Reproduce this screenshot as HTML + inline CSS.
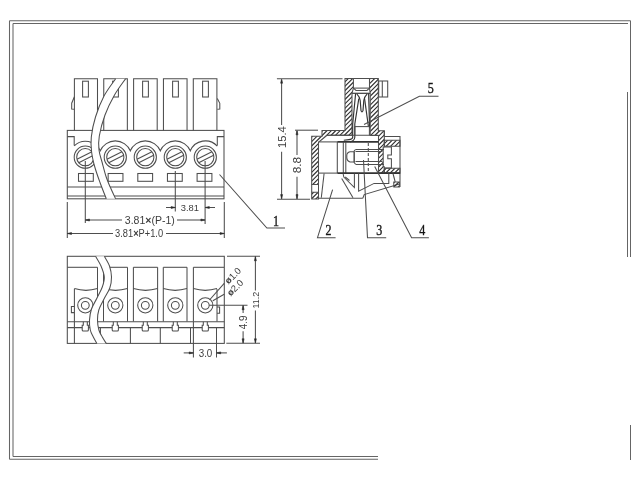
<!DOCTYPE html>
<html><head><meta charset="utf-8"><style>
html,body{margin:0;padding:0;background:#fff;width:640px;height:480px;overflow:hidden}
svg{display:block;will-change:transform}
line,polyline,polygon,rect,circle,path{stroke:#4e4e4e;stroke-width:1.05}
.ah{fill:#222;stroke:#333;stroke-width:0.6}
.t{font-family:"Liberation Sans",sans-serif;fill:#3c3c3c}
.s{font-family:"Liberation Serif",serif;fill:#111;stroke:#222;stroke-width:0.4}
.wf{fill:#fff}
.th{stroke-width:1.6;stroke:#333}
.hat{fill:url(#hatch)}
.nostroke{stroke:none}
.hl{stroke:#2e2e2e;stroke-width:1.15;fill:none}
.dash{stroke-dasharray:3 2}
.sp{stroke:#333;stroke-width:1.15}
</style></head><body>
<svg width="640" height="480" viewBox="0 0 640 480">
<defs>
<pattern id="hatch" patternUnits="userSpaceOnUse" width="4" height="4" patternTransform="rotate(45)">
<rect x="0" y="0" width="4" height="4" fill="#fff" stroke="none"/>
<line x1="2" y1="-1" x2="2" y2="5" style="stroke:#3a3a3a;stroke-width:1"/>
</pattern>
</defs>
<line x1="9.50" y1="20.70" x2="630.50" y2="20.70" style="stroke:#656565;"/>
<line x1="9.50" y1="20.70" x2="9.50" y2="459.30" style="stroke:#656565;"/>
<line x1="9.50" y1="459.30" x2="378.00" y2="459.30" style="stroke:#656565;"/>
<line x1="630.50" y1="20.70" x2="630.50" y2="257.00" style="stroke:#656565;"/>
<line x1="13.00" y1="23.50" x2="628.00" y2="23.50" style="stroke:#656565;"/>
<line x1="13.00" y1="23.50" x2="13.00" y2="456.50" style="stroke:#656565;"/>
<line x1="13.00" y1="456.50" x2="378.00" y2="456.50" style="stroke:#656565;"/>
<line x1="627.50" y1="92.00" x2="627.50" y2="257.00" style="stroke:#656565;"/>
<line x1="630.50" y1="425.00" x2="630.50" y2="460.00" style="stroke:#656565;"/>
<polyline points="74.40,130.40 74.40,78.70 97.50,78.70 97.50,130.40" fill="none"/>
<rect x="82.60" y="81.20" width="5.80" height="15.80" fill="none"/>
<polyline points="103.75,130.40 103.75,78.70 127.35,78.70 127.35,130.40" fill="none"/>
<rect x="112.60" y="81.20" width="5.80" height="15.80" fill="none"/>
<polyline points="133.60,130.40 133.60,78.70 157.20,78.70 157.20,130.40" fill="none"/>
<rect x="142.60" y="81.20" width="5.80" height="15.80" fill="none"/>
<polyline points="163.45,130.40 163.45,78.70 187.05,78.70 187.05,130.40" fill="none"/>
<rect x="172.60" y="81.20" width="5.80" height="15.80" fill="none"/>
<polyline points="193.30,130.40 193.30,78.70 216.90,78.70 216.90,130.40" fill="none"/>
<rect x="202.60" y="81.20" width="5.80" height="15.80" fill="none"/>
<polyline points="74.40,96.80 71.70,103.20 71.70,109.00 74.40,109.20" fill="none"/>
<polyline points="217.30,98.50 219.80,103.30 219.80,109.00 217.30,109.20" fill="none"/>
<rect x="67.30" y="130.40" width="156.70" height="68.40" fill="none"/>
<line x1="67.30" y1="187.00" x2="224.00" y2="187.00"/>
<line x1="67.30" y1="195.90" x2="224.00" y2="195.90"/>
<polyline points="67.30,136.60 74.20,136.60 74.20,145.60" fill="none"/>
<polyline points="224.00,136.60 217.30,136.60 217.30,145.60" fill="none"/>
<path d="M74.2,145.8 A16.3,16.3 0 0 1 100.30,150.82 A16.3,16.3 0 0 1 130.30,150.82 A16.3,16.3 0 0 1 160.30,150.82 A16.3,16.3 0 0 1 190.30,150.82 A16.3,16.3 0 0 1 217.30,146.17" fill="none"/>
<circle cx="85.30" cy="157.20" r="11.10" fill="none"/>
<circle cx="85.30" cy="157.20" r="8.60" fill="none"/>
<line x1="76.94" y1="159.21" x2="91.92" y2="151.71"/>
<line x1="78.68" y1="162.69" x2="93.66" y2="155.19"/>
<rect x="78.50" y="173.50" width="14.80" height="7.80" fill="none"/>
<circle cx="115.30" cy="157.20" r="11.10" fill="none"/>
<circle cx="115.30" cy="157.20" r="8.60" fill="none"/>
<line x1="106.94" y1="159.21" x2="121.92" y2="151.71"/>
<line x1="108.68" y1="162.69" x2="123.66" y2="155.19"/>
<rect x="108.15" y="173.50" width="14.80" height="7.80" fill="none"/>
<circle cx="145.30" cy="157.20" r="11.10" fill="none"/>
<circle cx="145.30" cy="157.20" r="8.60" fill="none"/>
<line x1="136.94" y1="159.21" x2="151.92" y2="151.71"/>
<line x1="138.68" y1="162.69" x2="153.66" y2="155.19"/>
<rect x="137.80" y="173.50" width="14.80" height="7.80" fill="none"/>
<circle cx="175.30" cy="157.20" r="11.10" fill="none"/>
<circle cx="175.30" cy="157.20" r="8.60" fill="none"/>
<line x1="166.94" y1="159.21" x2="181.92" y2="151.71"/>
<line x1="168.68" y1="162.69" x2="183.66" y2="155.19"/>
<rect x="167.45" y="173.50" width="14.80" height="7.80" fill="none"/>
<circle cx="205.30" cy="157.20" r="11.10" fill="none"/>
<circle cx="205.30" cy="157.20" r="8.60" fill="none"/>
<line x1="196.94" y1="159.21" x2="211.92" y2="151.71"/>
<line x1="198.68" y1="162.69" x2="213.66" y2="155.19"/>
<rect x="197.10" y="173.50" width="14.80" height="7.80" fill="none"/>
<path d="M115.60,78.70 C113.67,81.58 107.35,89.62 104.00,96.00 C100.65,102.38 97.62,110.17 95.50,117.00 C93.38,123.83 91.95,131.17 91.30,137.00 C90.65,142.83 91.02,147.00 91.60,152.00 C92.18,157.00 93.37,161.83 94.80,167.00 C96.23,172.17 98.28,177.70 100.20,183.00 C102.12,188.30 105.28,196.17 106.30,198.80 L115.60,198.80 C114.70,196.83 111.77,190.63 110.20,187.00 C108.63,183.37 107.52,181.00 106.20,177.00 C104.88,173.00 103.50,167.50 102.30,163.00 C101.10,158.50 99.50,154.50 99.00,150.00 C98.50,145.50 98.30,141.83 99.30,136.00 C100.30,130.17 102.47,121.83 105.00,115.00 C107.53,108.17 111.07,101.05 114.50,95.00 C117.93,88.95 123.75,81.42 125.60,78.70 Z" fill="#fff" class="nostroke"/>
<path d="M115.60,78.70 C113.67,81.58 107.35,89.62 104.00,96.00 C100.65,102.38 97.62,110.17 95.50,117.00 C93.38,123.83 91.95,131.17 91.30,137.00 C90.65,142.83 91.02,147.00 91.60,152.00 C92.18,157.00 93.37,161.83 94.80,167.00 C96.23,172.17 98.28,177.70 100.20,183.00 C102.12,188.30 105.28,196.17 106.30,198.80" fill="none"/>
<path d="M125.60,78.70 C123.75,81.42 117.93,88.95 114.50,95.00 C111.07,101.05 107.53,108.17 105.00,115.00 C102.47,121.83 100.30,130.17 99.30,136.00 C98.30,141.83 98.50,145.50 99.00,150.00 C99.50,154.50 101.10,158.50 102.30,163.00 C103.50,167.50 104.88,173.00 106.20,177.00 C107.52,181.00 108.63,183.37 110.20,187.00 C111.77,190.63 114.70,196.83 115.60,198.80" fill="none"/>
<line x1="85.30" y1="161.00" x2="85.30" y2="223.00"/>
<line x1="175.30" y1="171.00" x2="175.30" y2="211.50"/>
<line x1="205.10" y1="161.00" x2="205.10" y2="224.00"/>
<line x1="67.30" y1="202.00" x2="67.30" y2="238.00"/>
<line x1="224.30" y1="202.00" x2="224.30" y2="238.00"/>
<line x1="166.00" y1="207.50" x2="175.30" y2="207.50"/>
<polygon points="175.30,207.50 171.10,206.50 171.10,208.50" class="ah"/>
<line x1="215.00" y1="207.50" x2="205.10" y2="207.50"/>
<polygon points="205.10,207.50 209.30,206.50 209.30,208.50" class="ah"/>
<text x="189.90" y="211.20" font-size="9.9" text-anchor="middle" class="t" textLength="18.2" lengthAdjust="spacingAndGlyphs">3.81</text>
<line x1="85.30" y1="220.00" x2="122.00" y2="220.00"/>
<polygon points="85.30,220.00 89.50,219.00 89.50,221.00" class="ah"/>
<line x1="177.00" y1="220.00" x2="205.10" y2="220.00"/>
<polygon points="205.10,220.00 200.90,219.00 200.90,221.00" class="ah"/>
<text x="149.80" y="224.10" font-size="10" text-anchor="middle" class="t" textLength="50" lengthAdjust="spacingAndGlyphs">3.81<tspan font-weight="bold">×</tspan>(P-1)</text>
<line x1="67.30" y1="233.50" x2="113.00" y2="233.50"/>
<polygon points="67.30,233.50 71.50,232.50 71.50,234.50" class="ah"/>
<line x1="166.00" y1="233.50" x2="224.30" y2="233.50"/>
<polygon points="224.30,233.50 220.10,232.50 220.10,234.50" class="ah"/>
<text x="139.10" y="237.30" font-size="10" text-anchor="middle" class="t" textLength="48" lengthAdjust="spacingAndGlyphs">3.81<tspan font-weight="bold">×</tspan>P+1.0</text>
<polyline points="219.50,174.50 266.90,228.00 285.00,228.00" fill="none"/>
<text x="0.00" y="0.00" font-size="15.4" text-anchor="middle" class="s" transform="translate(276.00 226.00) scale(0.78 1)">1</text>
<rect x="67.30" y="256.30" width="157.00" height="87.10" fill="none"/>
<line x1="67.30" y1="267.30" x2="97.50" y2="267.30"/>
<line x1="103.50" y1="267.30" x2="127.50" y2="267.30"/>
<line x1="133.40" y1="267.30" x2="157.60" y2="267.30"/>
<line x1="163.30" y1="267.30" x2="187.00" y2="267.30"/>
<line x1="193.40" y1="267.30" x2="224.00" y2="267.30"/>
<line x1="97.50" y1="267.30" x2="97.50" y2="321.50"/>
<line x1="103.50" y1="267.30" x2="103.50" y2="321.50"/>
<line x1="127.50" y1="267.30" x2="127.50" y2="321.50"/>
<line x1="133.40" y1="267.30" x2="133.40" y2="321.50"/>
<line x1="157.60" y1="267.30" x2="157.60" y2="321.50"/>
<line x1="163.30" y1="267.30" x2="163.30" y2="321.50"/>
<line x1="187.00" y1="267.30" x2="187.00" y2="321.50"/>
<line x1="193.40" y1="267.30" x2="193.40" y2="321.50"/>
<line x1="217.00" y1="289.00" x2="217.00" y2="321.50"/>
<line x1="74.40" y1="288.80" x2="74.40" y2="343.40"/>
<path d="M74.4,288.6 Q85.95,292.2 97.5,288.6" fill="none"/>
<path d="M103.5,288.6 Q115.50,292.2 127.5,288.6" fill="none"/>
<path d="M133.4,288.6 Q145.50,292.2 157.6,288.6" fill="none"/>
<path d="M163.3,288.6 Q175.15,292.2 187,288.6" fill="none"/>
<path d="M193.4,288.6 Q205.20,292.2 217,288.6" fill="none"/>
<line x1="67.30" y1="327.60" x2="224.30" y2="327.60"/>
<line x1="100.40" y1="327.30" x2="100.40" y2="343.40"/>
<line x1="130.40" y1="327.30" x2="130.40" y2="343.40"/>
<line x1="160.30" y1="327.30" x2="160.30" y2="343.40"/>
<line x1="190.50" y1="327.30" x2="190.50" y2="343.40"/>
<line x1="193.40" y1="321.50" x2="193.40" y2="357.50"/>
<line x1="216.50" y1="327.30" x2="216.50" y2="357.50"/>
<path d="M83.30,321.8 L83.30,325.2 L82.20,325.2 L82.20,330 Q82.20,331 83.30,331 L87.30,331 Q88.40,331 88.40,330 L88.40,325.2 L87.30,325.2 L87.30,321.8" fill="#fff"/>
<path d="M113.30,321.8 L113.30,325.2 L112.20,325.2 L112.20,330 Q112.20,331 113.30,331 L117.30,331 Q118.40,331 118.40,330 L118.40,325.2 L117.30,325.2 L117.30,321.8" fill="#fff"/>
<path d="M143.30,321.8 L143.30,325.2 L142.20,325.2 L142.20,330 Q142.20,331 143.30,331 L147.30,331 Q148.40,331 148.40,330 L148.40,325.2 L147.30,325.2 L147.30,321.8" fill="#fff"/>
<path d="M173.30,321.8 L173.30,325.2 L172.20,325.2 L172.20,330 Q172.20,331 173.30,331 L177.30,331 Q178.40,331 178.40,330 L178.40,325.2 L177.30,325.2 L177.30,321.8" fill="#fff"/>
<path d="M203.30,321.8 L203.30,325.2 L202.20,325.2 L202.20,330 Q202.20,331 203.30,331 L207.30,331 Q208.40,331 208.40,330 L208.40,325.2 L207.30,325.2 L207.30,321.8" fill="#fff"/>
<line x1="67.30" y1="321.80" x2="224.30" y2="321.80"/>
<circle cx="85.30" cy="305.30" r="7.60" fill="none"/>
<circle cx="85.30" cy="305.30" r="3.90" fill="none"/>
<circle cx="115.30" cy="305.30" r="7.60" fill="none"/>
<circle cx="115.30" cy="305.30" r="3.90" fill="none"/>
<circle cx="145.30" cy="305.30" r="7.60" fill="none"/>
<circle cx="145.30" cy="305.30" r="3.90" fill="none"/>
<circle cx="175.30" cy="305.30" r="7.60" fill="none"/>
<circle cx="175.30" cy="305.30" r="3.90" fill="none"/>
<circle cx="205.30" cy="305.30" r="7.60" fill="none"/>
<circle cx="205.30" cy="305.30" r="3.90" fill="none"/>
<polyline points="74.40,306.50 71.40,306.50 71.40,312.60 74.40,312.60" fill="none"/>
<polyline points="217.00,307.00 219.60,307.00 219.60,313.20 217.00,313.20" fill="none"/>
<path d="M95.60,256.30 C96.50,257.92 99.55,262.55 101.00,266.00 C102.45,269.45 104.08,273.50 104.30,277.00 C104.52,280.50 103.52,283.50 102.30,287.00 C101.08,290.50 98.80,294.33 97.00,298.00 C95.20,301.67 92.75,305.33 91.50,309.00 C90.25,312.67 89.70,316.50 89.50,320.00 C89.30,323.50 89.67,327.17 90.30,330.00 C90.93,332.83 92.20,334.77 93.30,337.00 C94.40,339.23 96.30,342.33 96.90,343.40 L106.20,343.40 C105.55,342.33 103.52,339.23 102.30,337.00 C101.08,334.77 99.70,332.83 98.90,330.00 C98.10,327.17 97.52,323.33 97.50,320.00 C97.48,316.67 97.72,313.50 98.80,310.00 C99.88,306.50 102.17,302.67 104.00,299.00 C105.83,295.33 108.55,291.67 109.80,288.00 C111.05,284.33 111.55,280.67 111.50,277.00 C111.45,273.33 110.68,269.45 109.50,266.00 C108.32,262.55 105.25,257.92 104.40,256.30 Z" fill="#fff" class="nostroke"/>
<path d="M95.60,256.30 C96.50,257.92 99.55,262.55 101.00,266.00 C102.45,269.45 104.08,273.50 104.30,277.00 C104.52,280.50 103.52,283.50 102.30,287.00 C101.08,290.50 98.80,294.33 97.00,298.00 C95.20,301.67 92.75,305.33 91.50,309.00 C90.25,312.67 89.70,316.50 89.50,320.00 C89.30,323.50 89.67,327.17 90.30,330.00 C90.93,332.83 92.20,334.77 93.30,337.00 C94.40,339.23 96.30,342.33 96.90,343.40" fill="none"/>
<path d="M104.40,256.30 C105.25,257.92 108.32,262.55 109.50,266.00 C110.68,269.45 111.45,273.33 111.50,277.00 C111.55,280.67 111.05,284.33 109.80,288.00 C108.55,291.67 105.83,295.33 104.00,299.00 C102.17,302.67 99.88,306.50 98.80,310.00 C97.72,313.50 97.48,316.67 97.50,320.00 C97.52,323.33 98.10,327.17 98.90,330.00 C99.70,332.83 101.08,334.77 102.30,337.00 C103.52,339.23 105.55,342.33 106.20,343.40" fill="none"/>
<line x1="227.00" y1="256.30" x2="260.00" y2="256.30"/>
<line x1="226.30" y1="343.30" x2="260.00" y2="343.30"/>
<line x1="255.40" y1="256.30" x2="255.40" y2="290.60"/>
<polygon points="255.40,256.60 254.40,260.80 256.40,260.80" class="ah"/>
<line x1="255.40" y1="310.60" x2="255.40" y2="343.30"/>
<polygon points="255.40,343.00 254.40,338.80 256.40,338.80" class="ah"/>
<text x="258.90" y="300.20" font-size="9.9" text-anchor="middle" class="t" transform="rotate(-90 258.90 300.20)" textLength="16.8" lengthAdjust="spacingAndGlyphs">11.2</text>
<line x1="209.30" y1="305.20" x2="247.50" y2="305.20"/>
<line x1="243.10" y1="305.20" x2="243.10" y2="313.10"/>
<polygon points="243.10,305.50 242.10,309.70 244.10,309.70" class="ah"/>
<line x1="243.10" y1="331.20" x2="243.10" y2="343.30"/>
<polygon points="243.10,343.00 242.10,338.80 244.10,338.80" class="ah"/>
<text x="247.00" y="322.30" font-size="10.4" text-anchor="middle" class="t" transform="rotate(-90 247.00 322.30)" textLength="13.8" lengthAdjust="spacingAndGlyphs">4.9</text>
<line x1="183.70" y1="352.90" x2="193.40" y2="352.90"/>
<polygon points="193.40,352.90 189.20,351.90 189.20,353.90" class="ah"/>
<line x1="226.90" y1="352.90" x2="216.50" y2="352.90"/>
<polygon points="216.50,352.90 220.70,351.90 220.70,353.90" class="ah"/>
<text x="205.50" y="356.80" font-size="10" text-anchor="middle" class="t" textLength="13.6" lengthAdjust="spacingAndGlyphs">3.0</text>
<line x1="209.50" y1="300.00" x2="224.20" y2="283.30"/>
<line x1="212.80" y1="300.80" x2="224.20" y2="294.20"/>
<text x="235.20" y="278.00" font-size="9.3" text-anchor="middle" class="t" transform="rotate(-45 235.20 278.00)"><tspan font-weight="bold">ø</tspan>1.0</text>
<text x="237.40" y="290.00" font-size="9.3" text-anchor="middle" class="t" transform="rotate(-45 237.40 290.00)"><tspan font-weight="bold">ø</tspan>2.0</text>
<clipPath id="hc1"><polygon points="311.70,136.30 322.00,136.30 322.00,130.40 345.00,130.40 345.00,78.50 353.40,78.50 353.40,88.10 352.00,93.40 352.00,135.30 327.00,135.30 318.50,142.30 318.50,184.40 311.70,184.40"/></clipPath>
<path d="M201.80,185.40 L309.70,77.50 M206.20,185.40 L314.10,77.50 M210.60,185.40 L318.50,77.50 M215.00,185.40 L322.90,77.50 M219.40,185.40 L327.30,77.50 M223.80,185.40 L331.70,77.50 M228.20,185.40 L336.10,77.50 M232.60,185.40 L340.50,77.50 M237.00,185.40 L344.90,77.50 M241.40,185.40 L349.30,77.50 M245.80,185.40 L353.70,77.50 M250.20,185.40 L358.10,77.50 M254.60,185.40 L362.50,77.50 M259.00,185.40 L366.90,77.50 M263.40,185.40 L371.30,77.50 M267.80,185.40 L375.70,77.50 M272.20,185.40 L380.10,77.50 M276.60,185.40 L384.50,77.50 M281.00,185.40 L388.90,77.50 M285.40,185.40 L393.30,77.50 M289.80,185.40 L397.70,77.50 M294.20,185.40 L402.10,77.50 M298.60,185.40 L406.50,77.50 M303.00,185.40 L410.90,77.50 M307.40,185.40 L415.30,77.50 M311.80,185.40 L419.70,77.50 M316.20,185.40 L424.10,77.50 M320.60,185.40 L428.50,77.50 M325.00,185.40 L432.90,77.50 M329.40,185.40 L437.30,77.50 M333.80,185.40 L441.70,77.50 M338.20,185.40 L446.10,77.50 M342.60,185.40 L450.50,77.50 M347.00,185.40 L454.90,77.50 M351.40,185.40 L459.30,77.50" clip-path="url(#hc1)" class="hl"/>
<polygon points="311.70,136.30 322.00,136.30 322.00,130.40 345.00,130.40 345.00,78.50 353.40,78.50 353.40,88.10 352.00,93.40 352.00,135.30 327.00,135.30 318.50,142.30 318.50,184.40 311.70,184.40" fill="none"/>
<clipPath id="hc2"><polygon points="311.70,192.30 318.50,192.30 318.50,198.90 311.70,198.90"/></clipPath>
<path d="M301.70,199.90 L310.30,191.30 M306.10,199.90 L314.70,191.30 M310.50,199.90 L319.10,191.30 M314.90,199.90 L323.50,191.30" clip-path="url(#hc2)" class="hl"/>
<polygon points="311.70,192.30 318.50,192.30 318.50,198.90 311.70,198.90" fill="none"/>
<polyline points="311.70,184.40 311.70,192.30" fill="none"/>
<polyline points="318.50,184.40 318.50,192.30" fill="none"/>
<clipPath id="hc3"><polygon points="369.50,78.50 378.30,78.50 378.30,130.70 384.30,130.70 384.30,146.90 383.20,146.90 383.20,166.70 384.30,166.70 384.30,172.90 378.50,172.90 378.50,135.40 370.20,135.40 370.20,93.40 369.50,88.10"/></clipPath>
<path d="M270.50,173.90 L366.90,77.50 M274.90,173.90 L371.30,77.50 M279.30,173.90 L375.70,77.50 M283.70,173.90 L380.10,77.50 M288.10,173.90 L384.50,77.50 M292.50,173.90 L388.90,77.50 M296.90,173.90 L393.30,77.50 M301.30,173.90 L397.70,77.50 M305.70,173.90 L402.10,77.50 M310.10,173.90 L406.50,77.50 M314.50,173.90 L410.90,77.50 M318.90,173.90 L415.30,77.50 M323.30,173.90 L419.70,77.50 M327.70,173.90 L424.10,77.50 M332.10,173.90 L428.50,77.50 M336.50,173.90 L432.90,77.50 M340.90,173.90 L437.30,77.50 M345.30,173.90 L441.70,77.50 M349.70,173.90 L446.10,77.50 M354.10,173.90 L450.50,77.50 M358.50,173.90 L454.90,77.50 M362.90,173.90 L459.30,77.50 M367.30,173.90 L463.70,77.50 M371.70,173.90 L468.10,77.50 M376.10,173.90 L472.50,77.50 M380.50,173.90 L476.90,77.50" clip-path="url(#hc3)" class="hl"/>
<polygon points="369.50,78.50 378.30,78.50 378.30,130.70 384.30,130.70 384.30,146.90 383.20,146.90 383.20,166.70 384.30,166.70 384.30,172.90 378.50,172.90 378.50,135.40 370.20,135.40 370.20,93.40 369.50,88.10" fill="none"/>
<clipPath id="hc4"><polygon points="384.30,140.30 400.00,140.30 400.00,146.30 384.30,146.30"/></clipPath>
<path d="M376.30,147.30 L384.30,139.30 M380.70,147.30 L388.70,139.30 M385.10,147.30 L393.10,139.30 M389.50,147.30 L397.50,139.30 M393.90,147.30 L401.90,139.30 M398.30,147.30 L406.30,139.30" clip-path="url(#hc4)" class="hl"/>
<polygon points="384.30,140.30 400.00,140.30 400.00,146.30 384.30,146.30" fill="none"/>
<clipPath id="hc5"><polygon points="384.30,168.20 400.00,168.20 400.00,173.10 384.30,173.10"/></clipPath>
<path d="M375.90,174.10 L382.80,167.20 M380.30,174.10 L387.20,167.20 M384.70,174.10 L391.60,167.20 M389.10,174.10 L396.00,167.20 M393.50,174.10 L400.40,167.20 M397.90,174.10 L404.80,167.20" clip-path="url(#hc5)" class="hl"/>
<polygon points="384.30,168.20 400.00,168.20 400.00,173.10 384.30,173.10" fill="none"/>
<polyline points="384.30,136.50 400.00,136.50 400.00,187.00" fill="none"/>
<polyline points="384.30,130.70 384.30,136.50" fill="none"/>
<polyline points="353.40,88.10 356.00,90.50 367.00,90.50 369.50,88.10" fill="none"/>
<line x1="353.40" y1="88.10" x2="369.50" y2="88.10"/>
<line x1="353.40" y1="78.50" x2="369.50" y2="78.50"/>
<line x1="352.00" y1="93.40" x2="370.20" y2="93.40"/>
<line x1="352.50" y1="93.30" x2="370.00" y2="93.30"/>
<path d="M355.6,93.6 L352.7,124 L352.7,137.3 Q352.4,139.2 349,139.6 L343.8,140.2" fill="none" class="sp"/>
<path d="M358.8,98.6 L354.8,124 L354.8,137.3 Q354.5,141 350,141.9" fill="none" class="sp"/>
<path d="M356.8,93.8 Q359.6,96.5 360.2,100.5 L361,110.6 Q362,113.2 363,110.6 L363.8,100.5 Q364.4,96.5 367.2,93.8" fill="none" class="sp"/>
<path d="M368.6,93.6 L369.6,128" fill="none" class="sp"/>
<path d="M364.6,98.8 L368.4,126.5" fill="none" class="sp"/>
<line x1="354.80" y1="126.60" x2="369.40" y2="126.60"/>
<line x1="354.80" y1="126.60" x2="354.80" y2="135.30"/>
<line x1="369.40" y1="126.60" x2="369.40" y2="135.30"/>
<line x1="327.00" y1="135.30" x2="378.50" y2="135.30"/>
<line x1="318.50" y1="141.90" x2="337.30" y2="141.90"/>
<line x1="337.30" y1="141.90" x2="378.50" y2="141.90" class="th"/>
<line x1="337.30" y1="141.90" x2="337.30" y2="173.10"/>
<line x1="343.30" y1="141.90" x2="343.30" y2="173.10"/>
<line x1="345.80" y1="141.90" x2="345.80" y2="173.10"/>
<line x1="318.50" y1="173.10" x2="337.30" y2="173.10"/>
<line x1="337.30" y1="173.10" x2="400.00" y2="173.10" class="th"/>
<path d="M355.5,149.5 L384,149.5 M355.5,151.5 L382.4,151.5 M355.5,161.5 L382.4,161.5 M355.5,164.5 L384,164.5" fill="none"/>
<path d="M354.2,151.7 L350,151.7 Q346.8,152.5 346.8,155.5 L346.8,158 Q346.8,161 350,161.9 L354.2,161.9" fill="none"/>
<line x1="354.20" y1="151.70" x2="354.20" y2="161.90"/>
<path d="M355.5,149.5 L354.2,151 L354.2,162.6 L355.5,164.1" fill="none"/>
<path d="M384.3,146.9 L391.4,146.9 L391.4,155 L387.8,155 L387.8,158.8 L391.4,158.8 L391.4,167.9 L384.3,167.9" fill="none"/>
<path d="M368.3,143 L368.3,172" fill="none" class="dash"/>
<polyline points="324.10,173.50 321.30,197.80" fill="none"/>
<line x1="318.50" y1="198.20" x2="362.80" y2="198.20"/>
<polyline points="362.80,198.20 364.20,194.60 399.40,184.00" fill="none"/>
<polyline points="343.10,173.50 343.80,177.00 354.40,187.60 354.40,173.50" fill="none"/>
<polyline points="341.70,178.40 353.00,197.80" fill="none"/>
<polyline points="345.20,177.00 349.50,180.50" fill="none"/>
<polyline points="358.60,173.50 358.60,191.10 374.10,183.40 388.80,183.40 388.80,173.50" fill="none"/>
<polyline points="393.00,173.50 395.20,182.00" fill="none"/>
<clipPath id="hc6"><polygon points="393.80,182.00 399.40,182.00 399.40,186.90 393.80,186.90"/></clipPath>
<path d="M384.10,187.90 L391.00,181.00 M388.50,187.90 L395.40,181.00 M392.90,187.90 L399.80,181.00 M397.30,187.90 L404.20,181.00" clip-path="url(#hc6)" class="hl"/>
<polygon points="393.80,182.00 399.40,182.00 399.40,186.90 393.80,186.90" fill="none"/>
<rect x="378.70" y="81.00" width="9.00" height="16.00" fill="none"/>
<line x1="382.30" y1="81.00" x2="382.30" y2="97.00"/>
<line x1="276.90" y1="78.70" x2="342.50" y2="78.70"/>
<line x1="281.60" y1="80.00" x2="281.60" y2="125.00"/>
<polygon points="281.60,79.00 280.60,83.20 282.60,83.20" class="ah"/>
<line x1="281.60" y1="151.70" x2="281.60" y2="199.00"/>
<polygon points="281.60,198.80 280.60,194.60 282.60,194.60" class="ah"/>
<text x="285.60" y="137.10" font-size="10.3" text-anchor="middle" class="t" transform="rotate(-90 285.60 137.10)" textLength="22" lengthAdjust="spacingAndGlyphs">15.4</text>
<line x1="277.00" y1="199.20" x2="310.00" y2="199.20"/>
<line x1="295.00" y1="130.20" x2="318.00" y2="130.20"/>
<line x1="297.00" y1="131.00" x2="297.00" y2="155.00"/>
<polygon points="297.00,130.60 296.00,134.80 298.00,134.80" class="ah"/>
<line x1="297.00" y1="176.70" x2="297.00" y2="199.00"/>
<polygon points="297.00,198.80 296.00,194.60 298.00,194.60" class="ah"/>
<text x="301.20" y="165.00" font-size="10.3" text-anchor="middle" class="t" transform="rotate(-90 301.20 165.00)" textLength="16.5" lengthAdjust="spacingAndGlyphs">8.8</text>
<polyline points="364.00,124.50 419.40,96.30 438.50,96.30" fill="none"/>
<text x="0.00" y="0.00" font-size="15.4" text-anchor="middle" class="s" transform="translate(430.80 93.30) scale(0.78 1)">5</text>
<polyline points="332.60,189.70 317.50,237.70 335.60,237.70" fill="none"/>
<text x="0.00" y="0.00" font-size="15.4" text-anchor="middle" class="s" transform="translate(328.40 235.30) scale(0.78 1)">2</text>
<polyline points="363.50,160.00 367.50,237.70 386.20,237.70" fill="none"/>
<text x="0.00" y="0.00" font-size="15.4" text-anchor="middle" class="s" transform="translate(379.20 235.30) scale(0.78 1)">3</text>
<polyline points="374.70,166.40 411.60,237.70 428.90,237.70" fill="none"/>
<text x="0.00" y="0.00" font-size="15.4" text-anchor="middle" class="s" transform="translate(422.30 235.20) scale(0.78 1)">4</text>
</svg>
</body></html>
